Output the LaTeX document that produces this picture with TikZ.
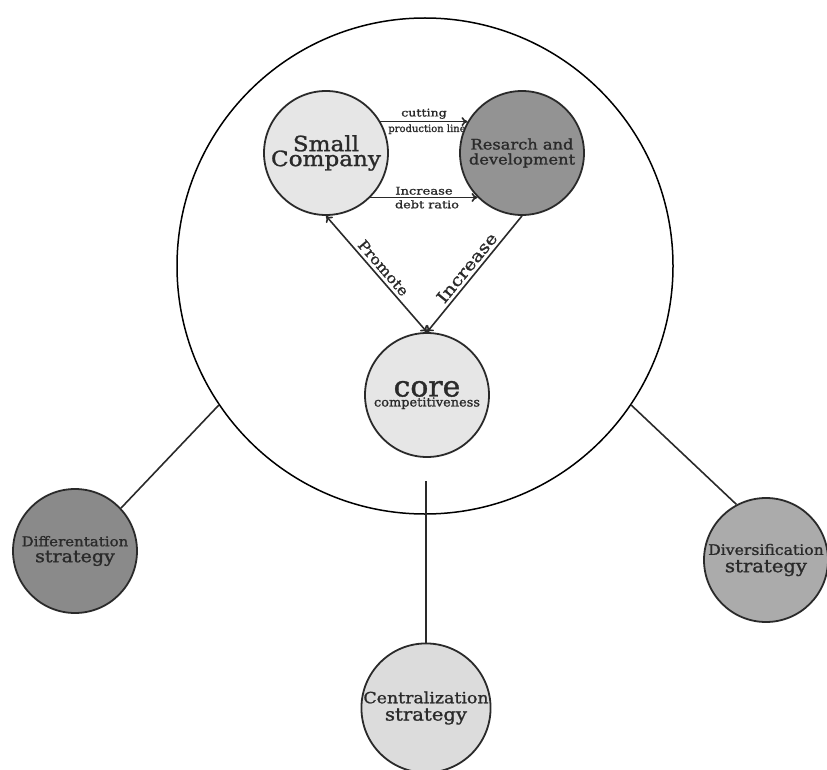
\documentclass[tikz,border=0pt]{standalone}
\usepackage{fontspec}
\usepackage{graphicx}
\setmainfont[FakeBold=1.2]{DejaVu Serif}
\usetikzlibrary{arrows.meta}
\definecolor{ink}{HTML}{2A2A2A}
\definecolor{fillA}{HTML}{E6E6E6}
\definecolor{fillR}{HTML}{939393}
\definecolor{fillD}{HTML}{8A8A8A}
\definecolor{fillV}{HTML}{ABABAB}
\definecolor{fillC}{HTML}{DCDCDC}
\newcommand{\hsc}[2]{\scalebox{#1}[1]{#2}}
\newcommand{\fs}[1]{\fontsize{#1}{#1}\selectfont}
\tikzset{
  bubble/.style={circle, draw=ink, line width=1.8pt, minimum size=124pt, inner sep=0pt, align=center, text=ink},
  link/.style={draw=ink, line width=1.6pt},
  arr/.style={draw=ink, line width=1.6pt, -{To[length=6pt,width=9pt]}},
  lab/.style={text=ink, inner sep=1pt}
}
\begin{document}
\begin{tikzpicture}[x=1pt,y=-1pt]
\useasboundingbox (0,0) rectangle (827,770);
\node[circle, draw=black, line width=1.5pt, minimum size=496pt, inner sep=0pt] (big) at (425,266) {};
\node[bubble, fill=fillA] (small) at (326,153) {\hsc{1.1}{\fs{21}Small}\\[-2pt]\hsc{1.1}{\fs{21}Company}};
\node[bubble, fill=fillR] (res) at (522,153) {\hsc{1.12}{\fs{14.5}Resarch and}\\[3pt]\hsc{1.12}{\fs{14.5}development}};
\node[bubble, fill=fillA] (core) at (427,395) {\hsc{1.03}{\fs{29}core}\\[-2pt]\hsc{1.05}{\fs{12.3}competitiveness}};
\node[bubble, fill=fillD] (diff) at (75,551) {\hsc{1.12}{\fs{13.4}Differentation}\\[4pt]\hsc{1.12}{\fs{17}strategy}};
\node[bubble, fill=fillV] (div) at (766,560) {\hsc{1.08}{\fs{14.5}Diversification}\\[4pt]\hsc{1.1}{\fs{17.8}strategy}};
\node[bubble, fill=fillC] (cen) at (426,708) {\hsc{1.12}{\fs{15.5}Centralization}\\[4pt]\hsc{1.1}{\fs{17.8}strategy}};
\coordinate (cstart) at (426,481);
% connectors to strategies
\draw[link] (big.214.8) -- (diff.43.7);
\draw[link] (big.326.3) -- (div.118.5);
\draw[link] (cstart) -- (cen.north);
% inner arrows
\draw[arr] (small.30) -- (res.150)
  node[lab, midway, above=1pt] {\hsc{1.2}{\fs{10.5}cutting}}
  node[lab, midway, below=1pt, xshift=3pt] {\hsc{1.0}{\fs{10}production line}};
\draw[arr] (small.-45) -- (res.225)
  node[lab, midway, above=1pt] {\hsc{1.25}{\fs{10.5}Increase}}
  node[lab, midway, below=1pt, xshift=3pt] {\hsc{1.22}{\fs{10.5}debt ratio}};
\draw[link, {To[length=6pt,width=9pt]}-{To[length=6pt,width=9pt]}] (small.south) -- (core.north)
  node[lab, midway, sloped, above=2pt] {\hsc{1.1}{\fs{14.5}Promote}};
\draw[link, {To[length=6pt,width=9pt]}-] (core.north) -- (res.south)
  node[lab, midway, sloped, above=2pt] {\hsc{1.18}{\fs{16.5}Increase}};
\end{tikzpicture}
\end{document}
